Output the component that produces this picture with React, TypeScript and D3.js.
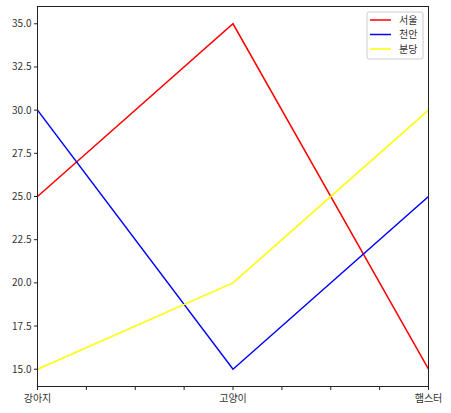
import * as d3 from "d3";

const categories = ["강아지", "고양이", "햄스터"];
const seriesNames = ["서울", "천안", "분당"];
const seriesColors = ["red", "blue", "yellow"];
const seoul = [25, 35, 15];
const cheonan = [30, 15, 25];
const bundang = [15, 20, 30];
const yTicks = [15, 17.5, 20, 22.5, 25, 27.5, 30, 32.5, 35];
const xMinorTicks = [0, 0.25, 0.5, 0.75, 1, 1.25, 1.5, 1.75, 2];

const W = 451;
const H = 413;
const margin = { left: 37.5, right: 22.5, top: 6.5, bottom: 26.5 };
const font = "'Noto Sans CJK KR', 'DejaVu Sans', sans-serif";

export default function App() {
	const x = d3
		.scaleLinear()
		.domain([0, categories.length - 1])
		.range([margin.left, W - margin.right]);
	const y = d3
		.scaleLinear()
		.domain([14, 36])
		.range([H - margin.bottom, margin.top]);

	const series = [seoul, cheonan, bundang];
	const line = d3
		.line<number>()
		.x((_, i) => x(i))
		.y((d) => y(d));

	const legendX = 367;
	const legendY = 12;

	return (
		<svg
			width={W}
			height={H}
			style={{ position: "absolute", left: 0, top: 0, fontFamily: font }}
		>
			<rect x={0} y={0} width={W} height={H} fill="white" />
			{series.map((s, i) => (
				<path
					key={seriesNames[i]}
					d={line(s) ?? ""}
					fill="none"
					stroke={seriesColors[i]}
					strokeWidth={1.5}
				/>
			))}
			<rect
				x={margin.left}
				y={margin.top}
				width={W - margin.left - margin.right}
				height={H - margin.top - margin.bottom}
				fill="none"
				stroke="#222"
				strokeWidth={1}
			/>
			{/* y axis */}
			{yTicks.map((t) => (
				<g key={t} transform={`translate(${margin.left},${y(t)})`}>
					<line x1={-3.5} x2={0} stroke="#222" />
					<text
						x={-6}
						dy="0.35em"
						textAnchor="end"
						fontSize={10}
						fill="#333"
					>
						{t.toFixed(1)}
					</text>
				</g>
			))}
			{/* x axis */}
			{xMinorTicks.map((t) => (
				<line
					key={t}
					x1={x(t)}
					x2={x(t)}
					y1={H - margin.bottom}
					y2={H - margin.bottom + 3.5}
					stroke="#222"
				/>
			))}
			{categories.map((c, i) => (
				<text
					key={c}
					x={x(i)}
					y={H - margin.bottom + 15}
					textAnchor="middle"
					fontSize={10}
					fill="#333"
				>
					{c}
				</text>
			))}
			{/* legend */}
			<rect
				x={legendX}
				y={legendY}
				width={56}
				height={47}
				rx={2}
				fill="white"
				fillOpacity={0.8}
				stroke="#ccc"
			/>
			{seriesNames.map((n, i) => (
				<g key={n} transform={`translate(${legendX},${legendY + 8 + i * 14.5})`}>
					<line x1={3} x2={24} stroke={seriesColors[i]} strokeWidth={1.5} />
					<text x={32} dy="0.35em" fontSize={10} fill="#333">
						{n}
					</text>
				</g>
			))}
		</svg>
	);
}
